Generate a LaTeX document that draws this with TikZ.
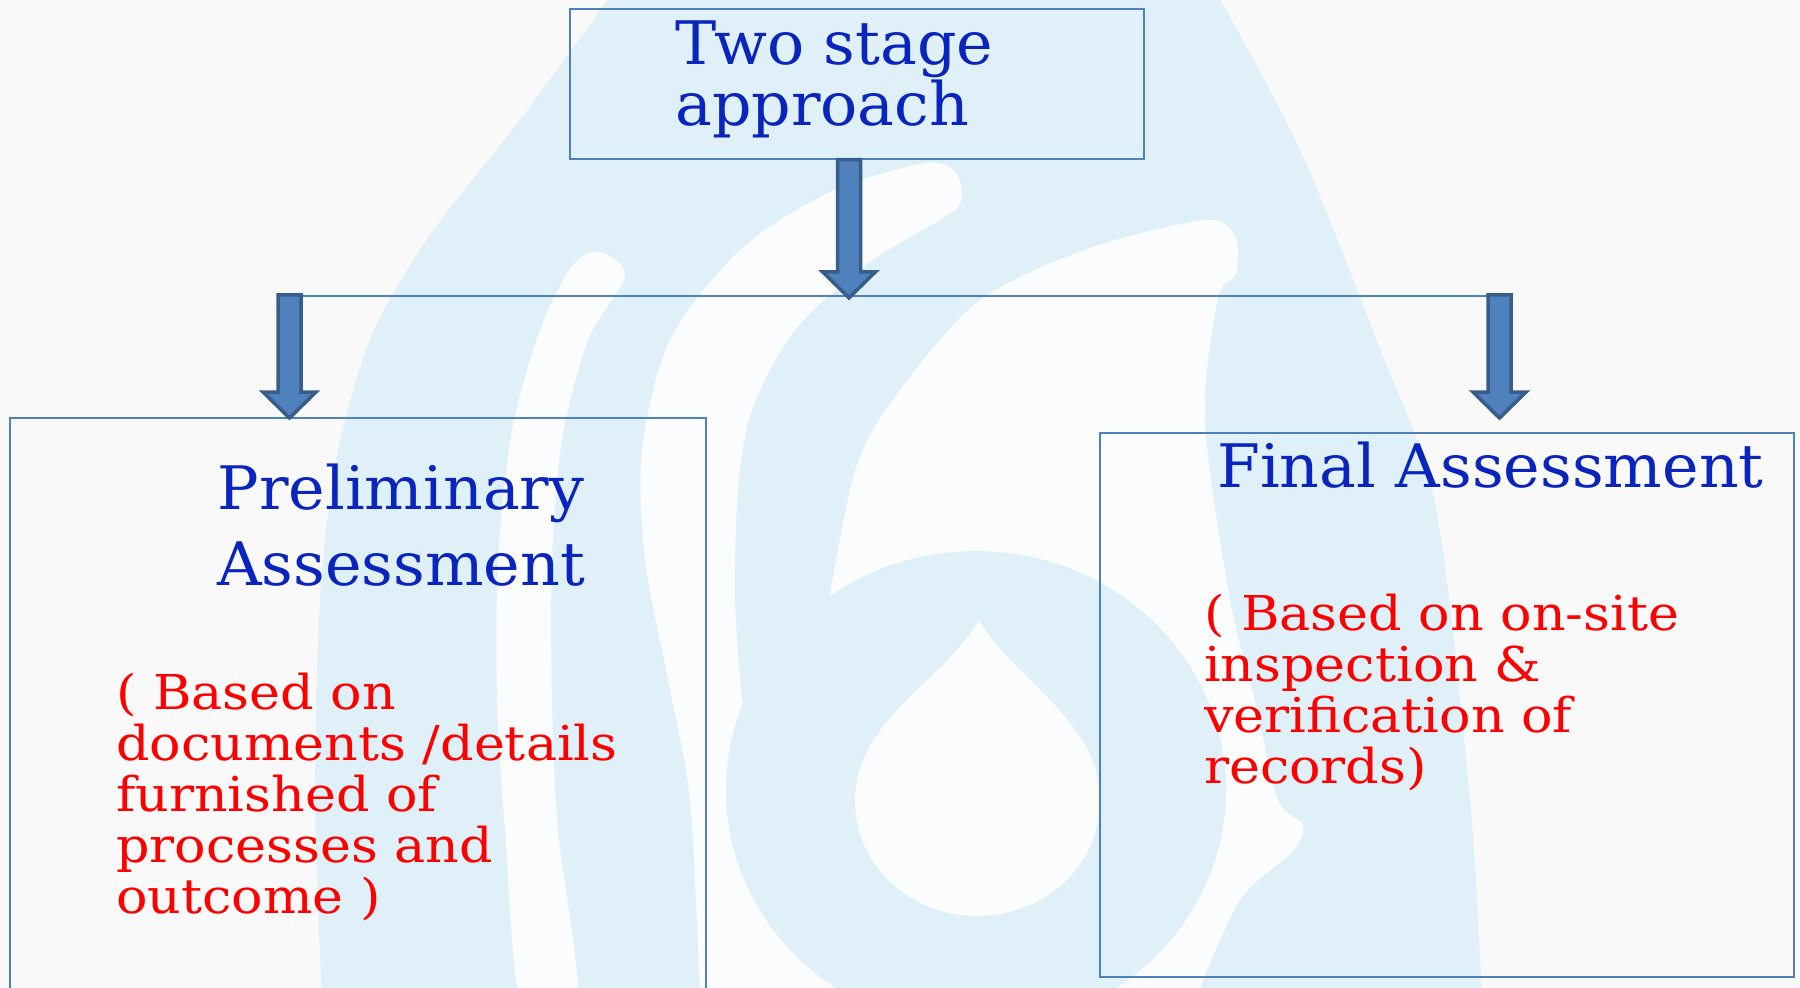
\documentclass[tikz,border=0pt]{standalone}
\usepackage{fontspec}
\setmainfont{DejaVu Serif}
\newfontfamily\headfont[FakeStretch=1.03]{DejaVu Serif}
\newfontfamily\notefont[FakeStretch=1.09]{DejaVu Serif}
\usetikzlibrary{calc}
\definecolor{paper}{RGB}{249,249,249}
\definecolor{dropc}{RGB}{223,240,248}
\definecolor{swirl}{RGB}{250,252,253}
\definecolor{boxline}{RGB}{79,129,189}
\definecolor{arrowfill}{RGB}{79,129,189}
\definecolor{arrowedge}{RGB}{56,93,138}
\definecolor{headblue}{RGB}{10,36,190}
\definecolor{notered}{RGB}{255,0,0}
\newcommand{\leftlines}[2]{\vtop{\baselineskip=#1\lineskiplimit=-1000pt\lineskip=0pt #2}}
\newcommand{\ctrline}[1]{\hbox to 0pt{\hss #1\hss}}
\tikzset{
  pics/blockarrow/.style={code={
    \draw[fill=arrowfill, draw=arrowedge, line width=3.5pt, line join=miter]
      (-11.5,1.75) -- (11.5,1.75) -- (11.5,{#1-27}) -- (26.5,{#1-27}) -- (0,{#1-1})
      -- (-26.5,{#1-27}) -- (-11.5,{#1-27}) -- cycle;}},
  frame/.style={draw=boxline, line width=1.8pt, inner sep=0pt, fill=none},
  link/.style={draw=boxline, line width=2pt},
  heading/.style={inner sep=0pt, text=headblue, font=\headfont\fontsize{60}{60}\selectfont},
  note/.style={anchor=base west, inner sep=0pt, text=notered, font=\notefont\fontsize{48}{48}\selectfont}
}
\begin{document}
\begin{tikzpicture}[x=1pt,y=-1pt]
\useasboundingbox (0,0) rectangle (1800,988);
% background and watermark
\fill[paper] (0,0) rectangle (1800,988);
\fill[dropc] plot[smooth] coordinates {(615,-10) (520,120) (430,235) (372,335) (337,455) (320,600) (315,800) (322,1000)}
  -- plot[smooth] coordinates {(1482,1000) (1470,800) (1435,503) (1378,344) (1300,150) (1215,-10)} -- cycle;
\fill[swirl] plot[smooth cycle] coordinates {(600,252) (572,266) (540,330) (512,430) (498,560) (497,700) (505,830) (522,1010)
  (578,1010) (558,830) (552,700) (552,560) (562,440) (588,340) (625,276)};
\fill[swirl] (700,1000) -- plot[smooth] coordinates {(700,1000) (690,800) (668,680) (645,560) (642,450) (670,340) (740,250)
  (830,192) (925,163) (955,172) (962,197) (948,215) (870,262) (795,330) (752,410) (738,490) (735,600) (742,700)}
  -- (790,730) -- (822,640) -- plot[smooth] coordinates {(822,640) (855,471) (900,390) (980,300) (1090,248) (1205,220)
  (1235,236) (1236,274) (1218,298) (1205,420) (1230,600) (1255,700) (1278,800) (1303,825) (1292,852) (1240,900) (1195,1000)}
  -- cycle;
\fill[dropc] (976,790) ellipse [x radius=250pt, y radius=239pt];
\fill[swirl] (979,620) .. controls (945,680) and (855,720) .. (855,800)
  .. controls (855,870) and (915,916) .. (977,916) .. controls (1040,916) and (1100,870) .. (1100,800)
  .. controls (1100,720) and (1013,680) .. (979,620) -- cycle;
% boxes
\node[frame, anchor=north west, minimum width=574pt, minimum height=150pt] (top) at (569,8) {};
\node[frame, anchor=north west, minimum width=696pt, minimum height=620pt] (prelim) at (9,417) {};
\node[frame, anchor=north west, minimum width=694pt, minimum height=544pt] (final) at (1099,432) {};
% texts
\node[heading, anchor=base west] (toptext) at (675,64) {\leftlines{61pt}{\hbox{Two stage}\hbox{approach}}};
\node[heading, anchor=base] (prelimtext) at (401,509) {\leftlines{76pt}{\ctrline{Preliminary}\ctrline{Assessment}}};
\node[heading, anchor=base west] (finaltext) at (1217,487) {Final Assessment};
\node[note] (prelimnote) at (116,709) {\leftlines{51.2pt}{\hbox{( Based on}\hbox{documents /details}\hbox{furnished of}\hbox{processes and}\hbox{outcome )}}};
\node[note] (finalnote) at (1204,630) {\leftlines{51.2pt}{\hbox{( Based on on-site}\hbox{inspection \&}\hbox{verification of}\hbox{records)}}};
% connectors
\coordinate (hub) at (849,296);
\coordinate (lstart) at (289.5,293);
\coordinate (rstart) at (1499.5,293);
\draw[link] ([xshift=12.5pt]lstart |- hub) -- ([xshift=-12.5pt]rstart |- hub);
\pic at ([yshift=2pt]top.south -| hub) {blockarrow=141};
\pic at (lstart) {blockarrow=126};
\pic at (rstart) {blockarrow=126};
\end{tikzpicture}
\end{document}
